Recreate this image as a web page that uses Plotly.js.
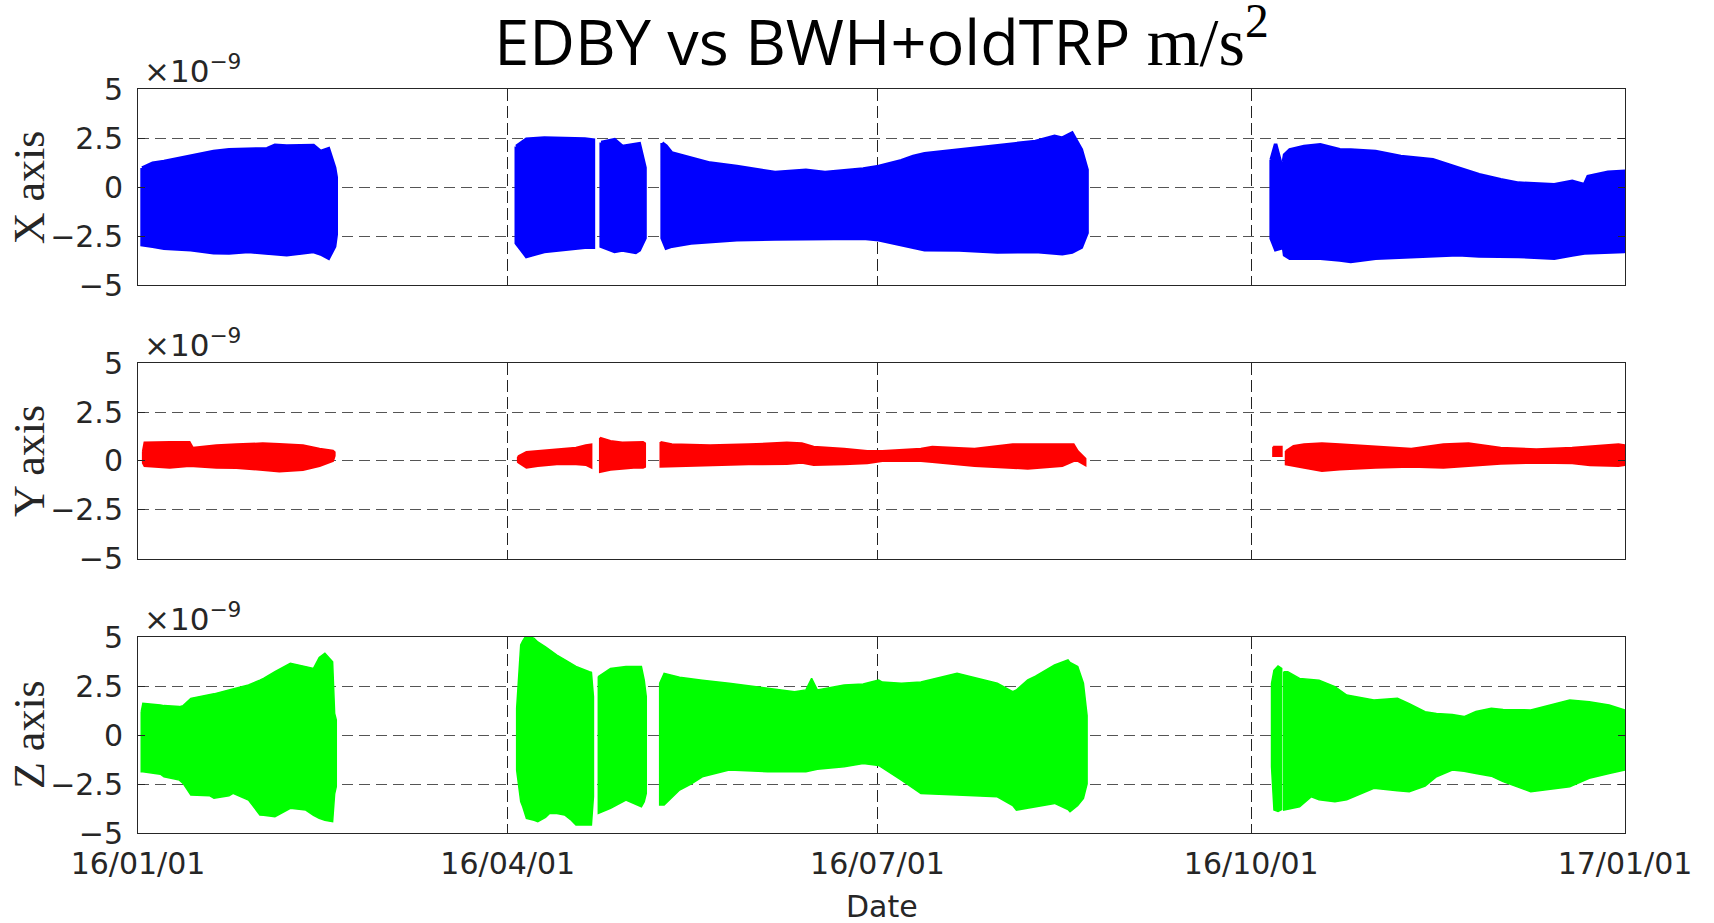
<!DOCTYPE html>
<html>
<head>
<meta charset="utf-8">
<script src="https://cdn.plot.ly/plotly-3.0.1.min.js"></script>
<style>html,body{margin:0;padding:0;background:#fff;}#chart{width:1714px;height:923px;}</style>
</head>
<body>
<div id="chart"></div>
<script>
// Envelope readings of the dense oscillation bands (units: 1e-9 m/s^2).
// Days are counted from 2016-01-01; null separates data gaps.
const xDays = [1.0,3.6,6.4,13,18.6,22.4,27.2,31.8,33.7,36.6,43.2,45,46.9,48.4,48.8, null,
  93.1,95.6,100,105,110,112.1, null,
  114,117.3,119.2,122.5,123.4,124.8, null,
  129.0,130.0,131.4,136.1,140.8,147.4,156.8,164.4,169.1,178.5,182.3,187.9,190.8,193.6,202.1,211.5,220.9,225.6,227.5,229.9,232.2,233.6, null,
  278.9,280.0,281.3, null,
  281.9,282.2,283.5,287,291,295.8,298.5,304.6,310.8,318.7,324.9,330.1,335.4,339.8,348.6,353,356,356.9,361.8,365.7,366];
const xUpper = [0.98,1.23,1.31,1.57,1.82,1.91,1.93,1.96,2.13,2.10,2.13,1.82,1.96,1.0,0.5, null,
  2.08,2.45,2.50,2.48,2.45,2.40, null,
  2.28,2.42,2.08,2.20,2.21,1.0, null,
  2.25,2.10,1.74,1.49,1.23,1.06,0.75,0.86,0.75,0.93,1.06,1.35,1.57,1.70,1.91,2.11,2.33,2.59,2.50,2.76,1.91,0.89, null,
  1.4,2.2,1.2, null,
  1.3,1.65,1.91,2.08,2.16,1.91,1.90,1.82,1.57,1.40,0.98,0.64,0.38,0.21,0.13,0.30,0.13,0.55,0.77,0.81,0.4];
const xLower = [-2.93,-3.01,-3.10,-3.18,-3.33,-3.35,-3.27,-3.35,-3.40,-3.44,-3.27,-3.40,-3.61,-3.01,-2.4, null,
  -2.84,-3.52,-3.27,-3.18,-3.05,-3.05, null,
  -3.01,-3.27,-3.20,-3.32,-3.20,-2.59, null,
  -2.59,-3.10,-3.00,-2.84,-2.75,-2.67,-2.64,-2.59,-2.60,-2.59,-2.67,-2.93,-3.05,-3.18,-3.20,-3.30,-3.27,-3.35,-3.39,-3.30,-3.05,-2.33, null,
  -2.6,-3.18,-3.1, null,
  -3.0,-3.44,-3.61,-3.60,-3.62,-3.70,-3.78,-3.61,-3.55,-3.50,-3.44,-3.50,-3.52,-3.52,-3.61,-3.45,-3.35,-3.35,-3.30,-3.27,-3.2];

const yDays = [1.2,1.6,7.8,12.7,13.5,19.3,24.2,26.6,30.7,34.8,36.5,40.6,44.7,48,48.4, null,
  93.5,93.7,95.6,98.4,103.1,107.8,110.2,111.6, null,
  113.7,116.3,119.2,122,124.3,124.8, null,
  128.6,131.4,140.8,150.3,159.7,163.4,166.3,173.8,179.5,183.2,192.7,195.5,205.9,215.3,219,227.5,230.3,231.3,233.2, null,
  279.4,281.5, null,
  282.5,284.4,287,291.4,295.8,304.6,313.4,321.3,327.5,335.4,344.2,353,357.4,364.4,366];
const yUpper = [0.5,0.94,0.97,0.97,0.68,0.80,0.85,0.88,0.90,0.87,0.85,0.80,0.63,0.52,0.45, null,
  0.20,0.26,0.46,0.51,0.60,0.68,0.80,0.85, null,
  1.19,1.02,0.94,0.94,0.97,0.90, null,
  0.97,0.85,0.80,0.85,0.94,0.90,0.73,0.63,0.51,0.51,0.63,0.73,0.63,0.85,0.85,0.85,0.85,0.51,0.12, null,
  0.73,0.73, null,
  0.51,0.77,0.85,0.90,0.85,0.73,0.63,0.85,0.90,0.68,0.60,0.68,0.75,0.85,0.80];
const yLower = [-0.1,-0.26,-0.34,-0.26,-0.30,-0.34,-0.36,-0.39,-0.46,-0.54,-0.50,-0.46,-0.26,0.0,0.26, null,
  -0.05,-0.09,-0.34,-0.26,-0.17,-0.17,-0.20,-0.34, null,
  -0.56,-0.45,-0.39,-0.34,-0.34,-0.30, null,
  -0.29,-0.27,-0.22,-0.17,-0.15,-0.09,-0.20,-0.17,-0.12,0.0,0.0,-0.05,-0.26,-0.35,-0.39,-0.26,0.0,0.0,-0.22, null,
  0.26,0.26, null,
  -0.17,-0.25,-0.34,-0.51,-0.43,-0.34,-0.29,-0.34,-0.26,-0.14,-0.09,-0.12,-0.22,-0.26,-0.2];

const zDays = [0.8,1.2,5.5,6.4,10.2,11.1,13,17.7,18.7,22.4,23.4,27.2,30,30.9,33.7,37.5,41.3,43.2,44.6,46,47.9,48.4,48.8, null,
  93.2,94.2,94.7,95.6,97.5,98.4,100.3,101.3,103.1,105,106.4,107.8,111.1,111.6,112.1, null,
  113.3,116.3,120.1,123.9,124.6,125.1, null,
  128.4,129.5,133.3,136.1,138.9,145.5,155,161.6,164.4,165.8,167.2,173.8,178.5,182.3,183.2,187.9,192.7,201.6,211.5,215.3,216.2,219,220.9,225.6,228.9,229.4,231.3,232.7,233.6, null,
  279.0,279.6,280.6,281.5, null,
  282,283,285.9,288.8,290.7,294.6,297.5,304.2,310,312.9,316.8,319.6,323.5,326.4,329.3,333.1,336,342.8,352.4,357.2,362.1,366];
const zUpper = [1.19,1.62,1.53,1.50,1.45,1.50,1.87,2.04,2.10,2.30,2.35,2.55,2.80,2.89,3.23,3.66,3.49,3.40,3.96,4.17,3.74,1.10,0.77, null,
  1.36,4.59,4.80,5.10,4.93,4.75,4.50,4.35,4.08,3.85,3.66,3.50,3.23,3.20,1.96, null,
  2.98,3.40,3.49,3.49,2.80,1.96, null,
  2.64,3.15,2.95,2.89,2.80,2.64,2.38,2.21,2.30,2.89,2.30,2.55,2.60,2.81,2.70,2.64,2.70,3.15,2.64,2.21,2.30,2.81,3.00,3.57,3.83,3.70,3.49,2.64,1.0, null,
  2.64,3.30,3.52,3.40, null,
  3.23,3.23,2.89,2.85,2.80,2.47,2.04,1.79,1.87,1.60,1.19,1.10,1.05,0.94,1.20,1.36,1.30,1.28,1.79,1.70,1.53,1.28];
const zLower = [-1.87,-1.87,-2.00,-2.13,-2.30,-2.47,-3.06,-3.10,-3.23,-3.10,-2.98,-3.32,-4.08,-4.10,-4.17,-3.74,-3.83,-4.10,-4.25,-4.35,-4.42,-3.00,-2.64, null,
  -1.79,-3.40,-3.66,-4.25,-4.35,-4.42,-4.20,-4.00,-4.00,-4.08,-4.30,-4.59,-4.59,-4.59,-3.15, null,
  -4.00,-3.74,-3.32,-3.66,-3.40,-2.98, null,
  -3.57,-3.57,-2.81,-2.50,-2.13,-1.79,-1.87,-1.87,-1.87,-1.80,-1.75,-1.62,-1.45,-1.55,-1.70,-2.30,-2.98,-3.06,-3.15,-3.60,-3.83,-3.70,-3.66,-3.49,-3.80,-3.91,-3.60,-3.23,-2.5, null,
  -1.62,-3.83,-3.90,-3.80, null,
  -3.83,-3.80,-3.66,-3.15,-3.30,-3.40,-3.30,-2.72,-2.85,-2.89,-2.60,-2.13,-1.79,-1.85,-1.96,-2.10,-2.38,-2.89,-2.64,-2.21,-1.96,-1.79];

const xTickVals = ['2016-01-01','2016-04-01','2016-07-01','2016-10-01','2017-01-01'];
const xTickText = ['16/01/01','16/04/01','16/07/01','16/10/01','17/01/01'];
const yTickVals = [-5,-2.5,0,2.5,5];
const yTickText = ['\u22125','\u22122.5','0','2.5','5'];
const panelTitles = ['X axis','Y axis','Z axis'];
const panelColors = ['#0000FF','#FF0000','#00FF00'];

const DAY0 = Date.UTC(2016,0,1);
function toDate(d){ return new Date(DAY0 + d*86400000).toISOString().slice(0,19).replace('T',' '); }

function bands(days, up, lo, color, xa, ya, lw){
  const traces = [];
  let seg = [];
  const flush = () => {
    if (seg.length){
      const xs = [], ys = [];
      seg.forEach(i => { xs.push(toDate(days[i])); ys.push(up[i]); });
      for (let k = seg.length-1; k >= 0; k--){ const i = seg[k]; xs.push(toDate(days[i])); ys.push(lo[i]); }
      xs.push(xs[0]); ys.push(ys[0]);
      traces.push({x: xs, y: ys, xaxis: xa, yaxis: ya, mode: 'lines', fill: 'toself',
        fillcolor: color, line: {color: color, width: lw, shape: 'linear'}, hoverinfo: 'skip', showlegend: false});
    }
    seg = [];
  };
  days.forEach((d,i) => { if (d === null) flush(); else seg.push(i); });
  flush();
  return traces;
}

const data = [].concat(
  bands(xDays, xUpper, xLower, panelColors[0], 'x', 'y', 3.5),
  bands(yDays, yUpper, yLower, panelColors[1], 'x2', 'y2', 2),
  bands(zDays, zUpper, zLower, panelColors[2], 'x3', 'y3', 1.5)
);

const axColor = '#262626';
const tickFont = {family: 'DejaVu Sans', size: 30, color: axColor};
function xAx(anchor, labels){
  return {anchor: anchor, type: 'date', range: ['2016-01-01','2017-01-01'], tickmode: 'array',
    tickvals: xTickVals, ticktext: xTickText, showticklabels: labels, tickfont: tickFont,
    ticks: 'inside', ticklen: 7, tickcolor: axColor, showline: true, linecolor: axColor, linewidth: 1,
    mirror: 'ticks', showgrid: true, gridcolor: '#222222', griddash: '12px,5px', gridwidth: 1,
    zeroline: false, ticklabelstandoff: 4, fixedrange: true};
}
function yAx(anchor, domain){
  return {anchor: anchor, domain: domain, range: [-5,5], tickmode: 'array', tickvals: yTickVals,
    ticktext: yTickText, tickfont: tickFont, ticks: 'inside', ticklen: 7, tickcolor: axColor,
    showline: true, linecolor: axColor, linewidth: 1, mirror: 'ticks', showgrid: true,
    gridcolor: '#555555', griddash: '11px,6px', gridwidth: 1, zeroline: false, ticklabelstandoff: 8, fixedrange: true};
}
const doms = [[0.7359,1],[0.3683,0.6317],[0,0.2634]];
const annotations = [];
doms.forEach((d,i) => {
  annotations.push({xref: 'paper', yref: 'paper', x: -0.0733, y: (d[0]+d[1])/2, text: panelTitles[i],
    textangle: -90, showarrow: false, xanchor: 'center', yanchor: 'middle',
    font: {family: 'Liberation Serif', size: 44, color: axColor}});
  annotations.push({xref: 'paper', yref: 'paper', x: 0.0027, y: d[1], text: '\u00d710<sup>\u22129</sup>',
    showarrow: false, xanchor: 'left', yanchor: 'bottom', yshift: -2,
    font: {family: 'DejaVu Sans', size: 31, color: axColor}});
});
annotations.push({xref: 'paper', yref: 'paper', x: 0.5, y: -0.0985, text: 'Date', showarrow: false,
  xanchor: 'center', yanchor: 'middle', font: {family: 'DejaVu Sans', size: 30, color: axColor}});

const layout = {
  width: 1714, height: 923,
  margin: {l: 138, r: 89, t: 89, b: 90},
  paper_bgcolor: '#ffffff', plot_bgcolor: '#ffffff',
  title: {text: 'EDBY vs BWH+oldTRP <span style="font-family:Liberation Serif;font-size:68px">m/s<sup>2</sup></span>',
    x: 0.5, xref: 'paper', xanchor: 'center', y: 0.953, yref: 'container', yanchor: 'middle',
    font: {family: 'Open Sans', size: 63, color: '#000000'}},
  xaxis: xAx('y', false), xaxis2: xAx('y2', false), xaxis3: xAx('y3', true),
  yaxis: yAx('x', doms[0]), yaxis2: yAx('x2', doms[1]), yaxis3: yAx('x3', doms[2]),
  annotations: annotations, showlegend: false
};
Plotly.newPlot('chart', data, layout, {displayModeBar: false, staticPlot: true});
</script>
</body>
</html>
